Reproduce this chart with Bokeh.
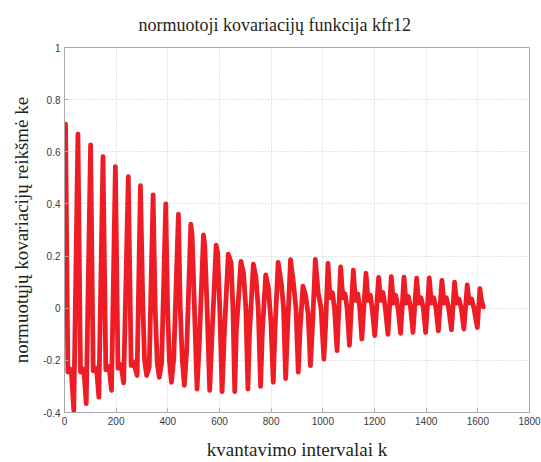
from bokeh.plotting import figure
from bokeh.models import Range1d, FixedTicker
from bokeh.embed import file_html
from bokeh.resources import INLINE

# ---------------- text ----------------
title_text = "normuotoji kovariacijų funkcija kfr12"
x_label = "kvantavimo intervalai k"
y_label = "normuotųjų kovariacijų reikšmė ke"

x_ticks = [0, 200, 400, 600, 800, 1000, 1200, 1400, 1600, 1800]
x_tick_labels = ["0", "200", "400", "600", "800", "1000", "1200", "1400", "1600", "1800"]
y_ticks = [-0.4, -0.2, 0.0, 0.2, 0.4, 0.6, 0.8, 1.0]
y_tick_labels = ["-0.4", "-0.2", "0", "0.2", "0.4", "0.6", "0.8", "1"]

# ---------------- data (one entry per oscillation cycle) ----------------
peak_k = [4, 52, 101, 149, 197, 247, 294, 343, 392, 441, 489, 538, 587, 634, 683, 731, 779,
          827, 875, 923, 971, 1020, 1069, 1118, 1167, 1216, 1265, 1314, 1363, 1412, 1461,
          1510, 1559, 1608]
peak_v = [0.706, 0.668, 0.626, 0.581, 0.543, 0.505, 0.470, 0.435, 0.400, 0.361, 0.322, 0.281,
          0.242, 0.207, 0.180, 0.169, 0.128, 0.176, 0.186, 0.085, 0.187, 0.172, 0.158, 0.146,
          0.134, 0.118, 0.121, 0.119, 0.115, 0.116, 0.107, 0.100, 0.089, 0.075]

fall_k = [13, 62, 111, 160, 207, 258, 303, 351, 399, 448, 494, 543, 593, 645, 693, 741, 789,
          840, 887, 933, 982, 1028, 1077, 1126, 1175, 1224, 1273, 1322, 1371, 1420, 1469,
          1518, 1567, None]
fall_v = [-0.245, -0.245, -0.240, -0.236, -0.230, -0.220, 0.02, 0.0, 0.0, 0.0, 0.28, 0.24,
          0.21, 0.175, 0.135, 0.12, 0.08, 0.09, 0.09, 0.05, 0.06, 0.04, 0.04, 0.03, 0.03, 0.03,
          0.02, 0.02, 0.02, 0.02, 0.02, 0.02, 0.02, None]

mid_k = [20, 69, 118, 167, 214, 265, 310, 359, 406, 456, 503, 552, 601, 652, 702, 750, 799,
         848, 896, 943, 993, 1037, 1086, 1135, 1184, 1233, 1282, 1331, 1380, 1429, 1478,
         1527, 1576, None]
mid_v = [-0.232, -0.232, -0.228, -0.222, -0.215, -0.205, -0.20, -0.21, -0.20, -0.20, 0.0, 0.0,
         0.0, 0.0, 0.0, 0.0, -0.05, 0.0, 0.0, -0.02, 0.0, 0.06, 0.055, 0.055, 0.05, 0.06,
         0.05, 0.045, 0.04, 0.04, 0.04, 0.035, 0.035, None]

pre_k = [27, 76, 125, 174, 221, 272, None, None, None, None, None, None, None, None, None,
         None, None, None, None, None, None, 1045, 1094, 1143, 1192, 1242, 1291, 1340, 1389,
         1438, 1487, 1536, 1585, None]
pre_v = [-0.25, -0.25, -0.245, -0.24, -0.235, -0.225, None, None, None, None, None, None,
         None, None, None, None, None, None, None, None, None, 0.0, 0.0, 0.0, -0.01, 0.0, 0.0,
         0.0, 0.0, 0.0, 0.0, 0.0, 0.0, None]

trough_k = [36, 84, 133, 182, 229, 281, 318, 367, 414, 464, 513, 562, 610, 659, 710, 759, 808,
            856, 905, 952, 1004, 1055, 1103, 1151, 1201, 1252, 1301, 1349, 1398, 1447, 1498,
            1546, 1598, None]
trough_v = [-0.392, -0.366, -0.341, -0.315, -0.286, -0.258, -0.258, -0.265, -0.284, -0.296,
            -0.31, -0.315, -0.32, -0.32, -0.31, -0.30, -0.284, -0.27, -0.245, -0.22, -0.195,
            -0.163, -0.142, -0.118, -0.105, -0.10, -0.096, -0.093, -0.093, -0.087, -0.083,
            -0.08, -0.074, None]

rise_k = [None, None, None, None, None, None, 328, 376, 423, 473, 522, 571, 619, 665, 716, 766,
          815, 863, 912, 960, 1011, None, None, None, None, None, None, None, None, None, None,
          None, None, None]
rise_v = [None, None, None, None, None, None, -0.225, -0.21, -0.19, -0.16, -0.13, -0.105,
          -0.09, -0.09, -0.10, -0.09, -0.08, -0.09, -0.08, -0.07, -0.06, None, None, None, None,
          None, None, None, None, None, None, None, None, None]

end_k = [1614, 1621]
end_v = [0.03, 0.005]

# assemble the polyline vertex order cycle by cycle
ks, vs = [], []
for i in range(len(peak_k)):
    for kk, vv in ((peak_k, peak_v), (fall_k, fall_v), (mid_k, mid_v), (pre_k, pre_v),
                   (trough_k, trough_v), (rise_k, rise_v)):
        if kk[i] is not None:
            ks.append(kk[i])
            vs.append(vv[i])
ks += end_k
vs += end_v

# ---------------- figure ----------------
serif = "Liberation Serif"
sans = "Liberation Sans"
frame_gray = "#A8A8A8"
text_dark = "#231F20"

p = figure(width=541, height=462, x_range=Range1d(0, 1800), y_range=Range1d(-0.4, 1.0),
           output_backend="svg", toolbar_location=None,
           min_border_left=64, min_border_right=12, min_border_top=47, min_border_bottom=49,
           title=title_text)
p.background_fill_color = "white"
p.border_fill_color = "white"
p.outline_line_color = frame_gray

p.title.text_font = serif
p.title.text_font_size = "18px"
p.title.text_font_style = "normal"
p.title.text_color = text_dark
p.title.align = "left"
p.title.offset = 74
p.title.standoff = 22
p.title.vertical_align = "top"

p.line(ks, vs, line_color="#EE1C25", line_width=4.8, line_join="round", line_cap="round")

for ax in p.xaxis:
    ax.ticker = FixedTicker(ticks=x_ticks)
    ax.major_label_overrides = dict(zip(x_ticks, x_tick_labels))
    ax.axis_label = x_label
    ax.axis_label_standoff = 11
for ax in p.yaxis:
    ax.ticker = FixedTicker(ticks=y_ticks)
    ax.major_label_overrides = dict(zip(y_ticks, y_tick_labels))
    ax.axis_label = y_label
    ax.axis_label_standoff = 8

for ax in list(p.xaxis) + list(p.yaxis):
    ax.axis_label_text_font = serif
    ax.axis_label_text_font_size = "19px"
    ax.axis_label_text_font_style = "normal"
    ax.axis_label_text_color = text_dark
    ax.major_tick_in = 4
    ax.major_tick_out = 0
    ax.minor_tick_line_color = None
    ax.axis_line_color = frame_gray
    ax.major_tick_line_color = frame_gray
    ax.major_label_text_font = sans
    ax.major_label_text_font_size = "10px"
    ax.major_label_text_color = "#3A3A3A"
    ax.major_label_standoff = 4

p.xgrid.ticker = FixedTicker(ticks=x_ticks)
p.ygrid.ticker = FixedTicker(ticks=y_ticks)
for g in (p.xgrid, p.ygrid):
    g.grid_line_color = "#C8C8C8"
    g.grid_line_dash = "1 2"
    g.grid_line_width = 1

open("out.html", "w").write(file_html(p, INLINE))
